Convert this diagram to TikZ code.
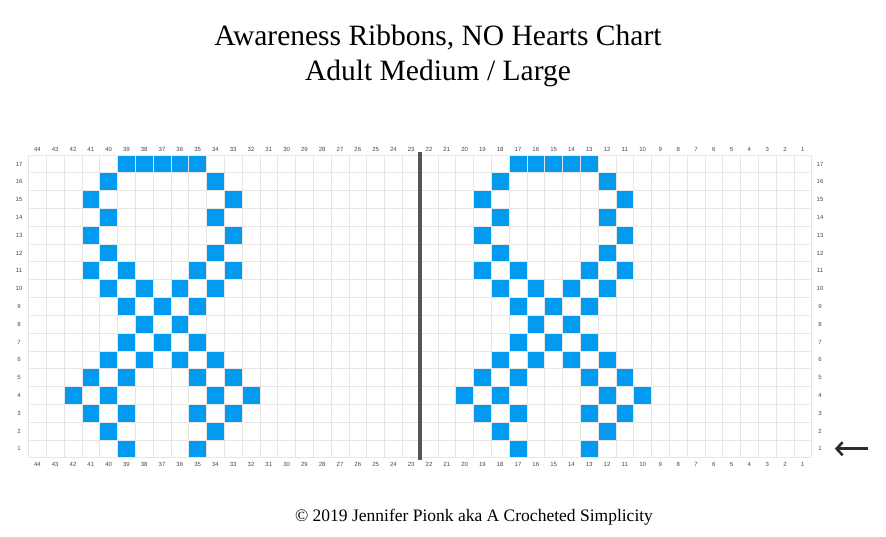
\documentclass[tikz,border=0pt]{standalone}
\usepackage{fontspec}
\setmainfont{Liberation Serif}
\setsansfont{Liberation Sans}
\usetikzlibrary{arrows.meta}
\definecolor{ribbonblue}{RGB}{3,155,240}
\definecolor{gridgray}{RGB}{230,230,230}
\definecolor{numgray}{RGB}{70,70,70}
\definecolor{centerline}{RGB}{85,85,85}
\definecolor{arrowgray}{RGB}{45,45,45}

\begin{document}
\begin{tikzpicture}[
    x=1pt, y=1pt,
    title/.style={font=\fontsize{29.5}{34}\selectfont, text=black},
    credit/.style={font=\fontsize{17.5}{20}\selectfont, text=black},
    stitch/.style={fill=ribbonblue},
    gridline/.style={draw=gridgray, line width=0.6pt},
    numlabel/.style={font=\sffamily\fontsize{6}{7}\selectfont, text=numgray, inner sep=0pt, text height=4.3pt, text depth=0pt},
    divider/.style={draw=centerline, line width=3.5pt},
    rowarrow/.style={-{Straight Barb[length=6pt, width=13pt, line width=2.6pt]}, line width=2.6pt, draw=arrowgray}
]
\useasboundingbox (0,0) rectangle (886,536);
\node[title] (head) at (438,498) {Awareness Ribbons, NO Hearts Chart};
\node[title] (size) at (438,462.5) {Adult Medium / Large};
\node[credit] (copy) at (474,19) {\textcopyright\ 2019 Jennifer Pionk aka A Crocheted Simplicity};
\begin{scope}[shift={(28.5,78.4)}, x=17.8pt, y=17.8pt]
% ribbon stitches by column/row number; the right ribbon sits 22 columns over
\foreach \dx in {0,22}
  \foreach \c/\r in {39/17,38/17,37/17,36/17,35/17, 40/16,34/16, 41/15,33/15,
      40/14,34/14, 41/13,33/13, 40/12,34/12, 41/11,39/11,35/11,33/11,
      40/10,38/10,36/10,34/10, 39/9,37/9,35/9, 38/8,36/8, 39/7,37/7,35/7,
      40/6,38/6,36/6,34/6, 41/5,39/5,35/5,33/5, 42/4,40/4,34/4,32/4,
      41/3,39/3,35/3,33/3, 40/2,34/2, 39/1,35/1}
    \fill[stitch] ({44-\c+\dx},{\r-1}) rectangle +(1,1);
\foreach \i in {0,...,44}
  \draw[gridline] (\i,0) -- (\i,17);
\foreach \j in {0,...,17}
  \draw[gridline] (0,\j) -- (44,\j);
% column and row numbers
\foreach \c in {1,...,44} {
  \node[numlabel] (top\c) at ({44.5-\c},17.34) {\c};
  \node[numlabel] (bot\c) at ({44.5-\c},-0.36) {\c};
}
\foreach \r in {1,...,17} {
  \node[numlabel] (left\r) at (-0.53,{\r-0.5}) {\r};
  \node[numlabel] (right\r) at (44.47,{\r-0.5}) {\r};
}
\coordinate (divtop) at (22,17.19);
\coordinate (divbot) at (22,-0.13);
\draw[divider] (divtop) -- (divbot);
\coordinate (arrowtail) at (47.16,0.5);
\coordinate (arrowtip) at (45.3,0.5);
\draw[rowarrow] (arrowtail) -- (arrowtip);
\end{scope}
\end{tikzpicture}
\end{document}
